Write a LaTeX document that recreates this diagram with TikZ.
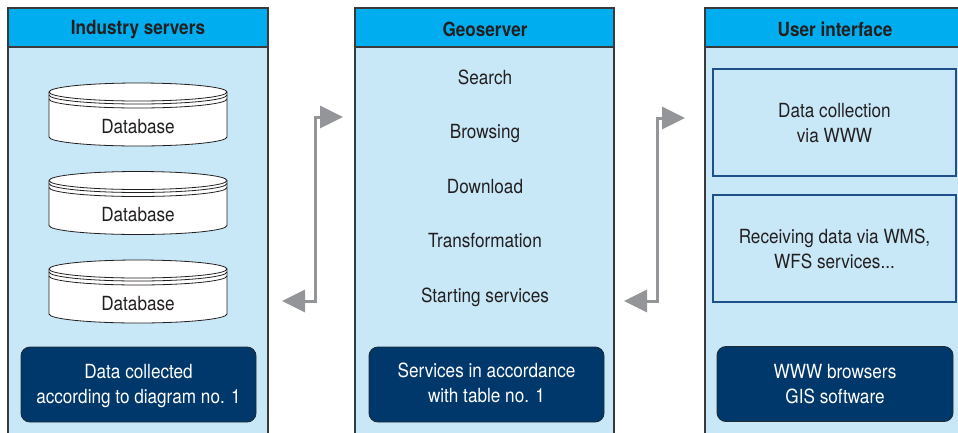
\documentclass[tikz,border=0pt]{standalone}
\usepackage{fontspec}
\setmainfont[FakeStretch=0.88]{TeX Gyre Heros}
\usetikzlibrary{arrows.meta}

\definecolor{panelline}{HTML}{3A3A3C}
\definecolor{panelbody}{HTML}{C8E8F8}
\definecolor{headcyan}{HTML}{00AEEF}
\definecolor{textdark}{HTML}{231F20}
\definecolor{navy}{HTML}{00386B}
\definecolor{darkedge}{HTML}{1E2A36}
\definecolor{boxblue}{HTML}{1F4F8A}
\definecolor{arrowgray}{HTML}{939598}

\tikzset{
  dbcyl/.pic={
    % cylinder body with the top ellipse
    \path[draw=textdark,line width=0.8pt,fill=white]
      (-89,0) -- (-89,-45)
      arc[start angle=180,end angle=360,x radius=89,y radius=9]
      -- (89,0)
      arc[start angle=0,end angle=180,x radius=89,y radius=9] -- cycle;
    \draw[textdark,line width=0.8pt]
      (89,0) arc[start angle=0,end angle=-180,x radius=89,y radius=9];
    % rim lines under the lid
    \draw[textdark,line width=0.8pt]
      (-89,-3) arc[start angle=180,end angle=360,x radius=89,y radius=9];
    \draw[textdark,line width=0.8pt]
      (-89,-7) arc[start angle=180,end angle=360,x radius=89,y radius=9];
  }
}

\begin{document}
\begin{tikzpicture}[x=1pt,y=1pt,
  panel/.style={draw=panelline,line width=1.1pt,fill=panelbody},
  header/.style={draw=panelline,line width=1.1pt,fill=headcyan},
  headtext/.style={font=\fontsize{19.5}{25}\selectfont\bfseries,text=textdark,
    anchor=base,inner sep=0pt},
  txt/.style={font=\fontsize{19.5}{25}\selectfont,text=textdark,align=center,
    anchor=base,inner sep=0pt},
  wtxt/.style={txt,text=white},
  darkbox/.style={draw=darkedge,line width=0.9pt,fill=navy,rounded corners=9pt,
    minimum height=75pt,inner sep=0pt},
  lightbox/.style={draw=boxblue,line width=1.1pt,fill=panelbody,
    minimum width=243pt,minimum height=107pt,inner sep=0pt},
  garrow/.style={draw=arrowgray,line width=3pt,
    {Triangle[length=23pt,width=22pt]}-{Triangle[length=23pt,width=22pt]}}
]
\useasboundingbox (0,0) rectangle (958,-432);
\clip (0,0) rectangle (958,-432);

% panels
\path[panel] (8,-47) rectangle (268,-445);
\path[header] (8,-8) rectangle (268,-47);
\path[panel] (355,-47) rectangle (614,-445);
\path[header] (355,-8) rectangle (614,-47);
\path[panel] (705,-47) rectangle (975,-445);
\path[header] (705,-8) rectangle (975,-47);

\node[headtext] (hind) at (138,-34) {Industry servers};
\node[headtext] (hgeo) at (485,-36) {Geoserver};
\node[headtext] (hui) at (835,-36) {User interface};

% industry servers
\pic at (138,-92) {dbcyl};
\pic at (138,-180.5) {dbcyl};
\pic at (138,-269) {dbcyl};
\node[txt] (db1) at (138,-133) {Database};
\node[txt] (db2) at (138,-221.5) {Database};
\node[txt] (db3) at (138,-310) {Database};
\node[darkbox,minimum width=235pt] (dind) at (138.5,-384.5) {};
\node[wtxt] (tind) at (138.5,-403) {Data collected\\according to diagram no. 1};

% geoserver
\node[txt] (s1) at (485,-84) {Search};
\node[txt] (s2) at (485,-138) {Browsing};
\node[txt] (s3) at (485,-193) {Download};
\node[txt] (s4) at (485,-247) {Transformation};
\node[txt] (s5) at (485,-302) {Starting services};
\node[darkbox,minimum width=235pt] (dgeo) at (486.5,-384.5) {};
\node[wtxt] (tgeo) at (486.5,-402) {Services in accordance\\with table no. 1};

% user interface
\node[lightbox] (ui1) at (834.5,-122.5) {};
\node[txt] (tui1) at (834.5,-142) {Data collection\\via WWW};
\node[lightbox] (ui2) at (834.5,-248.5) {};
\node[txt] (tui2) at (834.5,-268) {Receiving data via WMS,\\WFS services...};
\node[darkbox,minimum width=236pt] (dui) at (835,-384) {};
\node[wtxt] (tui) at (835,-403) {WWW browsers\\GIS software};

% two-way connectors
\coordinate (a1b) at (282,-301);
\coordinate (a1t) at (343,-117);
\coordinate (a2b) at (624,-301);
\coordinate (a2t) at (685,-118);
\draw[garrow] (a1b) -- (315,-301) -- (315,-117) -- (a1t);
\draw[garrow] (a2b) -- (657,-301) -- (657,-118) -- (a2t);
\end{tikzpicture}
\end{document}
